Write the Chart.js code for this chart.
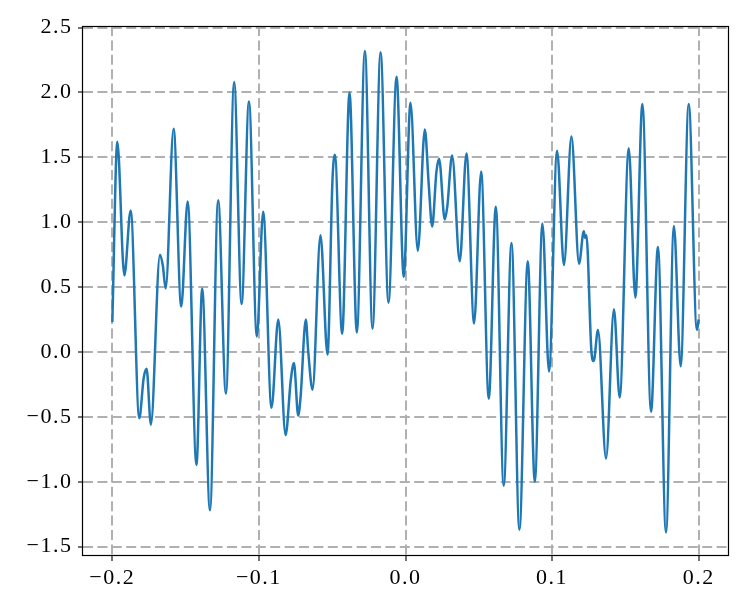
<!DOCTYPE html>
<html><head><meta charset="utf-8">
<script src="https://cdn.jsdelivr.net/npm/chart.js@4"></script>
<style>html,body{margin:0;padding:0;background:#fff;} canvas{display:block;}</style>
</head><body>
<canvas id="c" width="747" height="610"></canvas>
<script>
// Signal samples (peaks, troughs and shoulders)
const xValues = [
  -0.2000, -0.1966, -0.1918, -0.1875, -0.1816, -0.1786, -0.1766, -0.1737, -0.1675, -0.1656,
  -0.1636, -0.1582, -0.1530, -0.1486, -0.1426, -0.1387, -0.1334, -0.1278, -0.1225, -0.1169,
  -0.1118, -0.1068, -0.1014, -0.0971, -0.0914, -0.0868, -0.0818, -0.0782, -0.0761, -0.0732,
  -0.0716, -0.0680, -0.0664, -0.0634, -0.0580, -0.0532, -0.0498, -0.0482, -0.0432, -0.0382,
  -0.0332, -0.0277, -0.0225, -0.0170, -0.0116, -0.0061, -0.0012, 0.0034, 0.0084, 0.0132,
  0.0158, 0.0182, 0.0211, 0.0229, 0.0268, 0.0285, 0.0318, 0.0370, 0.0416, 0.0468,
  0.0516, 0.0568, 0.0616, 0.0670, 0.0723, 0.0777, 0.0834, 0.0882, 0.0934, 0.0979,
  0.1034, 0.1081, 0.1132, 0.1184, 0.1216, 0.1225, 0.1234, 0.1268, 0.1284, 0.1313,
  0.1368, 0.1422, 0.1461, 0.1523, 0.1568, 0.1616, 0.1675, 0.1722, 0.1777, 0.1831,
  0.1877, 0.1932, 0.1988, 0.2000
];
const yValues = [
  0.23, 1.62, 0.59, 1.09, -0.51, -0.20, -0.13, -0.56, 0.75, 0.67,
  0.49, 1.72, 0.35, 1.16, -0.87, 0.49, -1.22, 1.17, -0.32, 2.08,
  0.37, 1.93, 0.12, 1.08, -0.43, 0.25, -0.64, -0.21, -0.085, -0.49,
  -0.35, 0.25, 0.01, -0.29, 0.90, -0.02, 1.33, 1.52, 0.14, 2.00,
  0.15, 2.32, 0.18, 2.31, 0.38, 2.12, 0.58, 1.92, 0.78, 1.715,
  1.30, 0.967, 1.39, 1.49, 1.02, 1.12, 1.515, 0.70, 1.53, 0.22,
  1.39, -0.36, 1.12, -1.03, 0.84, -1.37, 0.70, -1.00, 0.99, -0.15,
  1.55, 0.67, 1.66, 0.68, 0.93, 0.88, 0.90, 0.01, -0.07, 0.17,
  -0.82, 0.33, -0.35, 1.57, 0.42, 1.91, -0.46, 0.81, -1.39, 0.97,
  -0.11, 1.91, 0.17, 0.25
];
const xTicks = [-0.2, -0.1, 0.0, 0.1, 0.2];
const yTicks = [-1.5, -1.0, -0.5, 0.0, 0.5, 1.0, 1.5, 2.0, 2.5];
const xLimits = [-0.22, 0.22];
const yLimits = [-1.572, 2.512];

const points = xValues.map((x, i) => ({x: x, y: yValues[i]}));
const fmt = v => {
  const s = Number(v).toFixed(1);
  return s === '-0.0' ? '0.0' : s.replace('-', '\u2212');
};
const FONT = {family: "'Liberation Serif', 'DejaVu Serif', serif", size: 22};
const GRID = '#b0b0b0';

const spacingPlugin = {
  id: 'spacing',
  beforeInit(chart) { chart.ctx.letterSpacing = '1.5px'; },
  beforeDraw(chart) { chart.ctx.letterSpacing = '1.5px'; }
};
const framePlugin = {
  id: 'frame',
  afterDatasetsDraw(chart) {
    const {ctx, chartArea: a} = chart;
    const l = Math.round(a.left) - 0.5, t = Math.round(a.top) + 0.5;
    const r = Math.round(a.right) + 0.5, b = Math.round(a.bottom) - 0.5;
    ctx.save();
    ctx.strokeStyle = '#000';
    ctx.lineWidth = 1.2;
    ctx.setLineDash([]);
    ctx.strokeRect(l, t, r - l, b - t);
    ctx.restore();
  }
};

new Chart(document.getElementById('c'), {
  type: 'line',
  data: {
    datasets: [{
      data: points,
      borderColor: '#1f77b4',
      borderWidth: 2.5,
      pointRadius: 0,
      fill: false,
      cubicInterpolationMode: 'monotone'
    }]
  },
  options: {
    responsive: false,
    devicePixelRatio: 1,
    animation: false,
    layout: {padding: {left: 0, top: 26, right: 19, bottom: 0}},
    plugins: {legend: {display: false}, tooltip: {enabled: false}},
    scales: {
      x: {
        type: 'linear',
        min: xLimits[0], max: xLimits[1],
        afterBuildTicks: s => { s.ticks = xTicks.map(v => ({value: v})); },
        afterFit: s => { s.height = 54; },
        ticks: {callback: fmt, color: '#000', font: FONT, padding: 4, autoSkip: false, maxRotation: 0},
        grid: {color: GRID, lineWidth: 2, tickColor: '#000', tickLength: 5, tickWidth: 1.1, tickBorderDash: []},
        border: {display: false, dash: [10, 4.4]}
      },
      y: {
        type: 'linear',
        min: yLimits[0], max: yLimits[1],
        afterBuildTicks: s => { s.ticks = yTicks.map(v => ({value: v})); },
        afterFit: s => { s.width = 83; },
        ticks: {callback: fmt, color: '#000', font: FONT, padding: 5.5, autoSkip: false},
        grid: {color: GRID, lineWidth: 2, tickColor: '#000', tickLength: 5, tickWidth: 1.1, tickBorderDash: []},
        border: {display: false, dash: [10, 4.4]}
      }
    }
  },
  plugins: [spacingPlugin, framePlugin]
});
</script>
</body></html>
